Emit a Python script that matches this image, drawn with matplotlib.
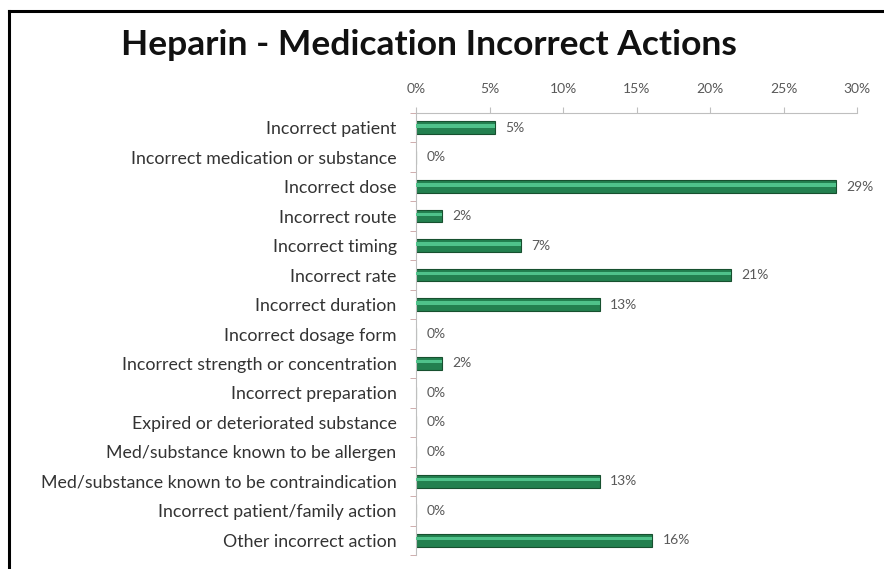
import matplotlib.pyplot as plt
from matplotlib.ticker import FuncFormatter, FixedLocator
from matplotlib.lines import Line2D

categories = [
    "Incorrect patient",
    "Incorrect medication or substance",
    "Incorrect dose",
    "Incorrect route",
    "Incorrect timing",
    "Incorrect rate",
    "Incorrect duration",
    "Incorrect dosage form",
    "Incorrect strength or concentration",
    "Incorrect preparation",
    "Expired or deteriorated substance",
    "Med/substance known to be allergen",
    "Med/substance known to be contraindication",
    "Incorrect patient/family action",
    "Other incorrect action",
]
values = [5.36, 0, 28.57, 1.79, 7.14, 21.43, 12.5, 0, 1.79, 0, 0, 0, 12.5, 0, 16.07]
xticks = [0, 5, 10, 15, 20, 25, 30]

plt.rcParams['font.family'] = ['Lato', 'DejaVu Sans']

fig = plt.figure(figsize=(8.84, 5.69), dpi=100)
ax = fig.add_axes([416 / 884, 1 - 555 / 569, (857 - 416) / 884, (555 - 113) / 569])

pos = list(range(len(categories)))
ax.barh(pos, values, height=0.43, color='#23804f', edgecolor='#17502f', linewidth=0.8, zorder=2)
ax.barh([p - 0.06 for p in pos], values, height=0.12, color='#4fc28a', linewidth=0, zorder=3)

for p, v in zip(pos, values):
    ax.text(v + 0.7, p, f"{int(v + 0.5)}%", va='center', ha='left', fontsize=10, color='#595959')

ax.set_ylim(len(categories) - 0.5, -0.5)
ax.set_xlim(0, 30)
ax.set_yticks(pos)
ax.set_yticklabels(categories, fontsize=12.8, color='#333333')
ax.yaxis.set_minor_locator(FixedLocator([p + 0.5 for p in range(-1, len(categories))]))
ax.tick_params(axis='y', which='major', length=0, pad=14)
ax.tick_params(axis='y', which='minor', length=4, color='#c8a0a0', direction='out')

ax.xaxis.tick_top()
ax.set_xticks(xticks)
ax.xaxis.set_major_formatter(FuncFormatter(lambda x, _: f"{x:.0f}%"))
ax.tick_params(axis='x', length=4, color='#bfbfbf', labelsize=10, labelcolor='#595959', pad=9)

for s in ['right', 'bottom']:
    ax.spines[s].set_visible(False)
ax.spines['top'].set_color('#bfbfbf')
ax.spines['left'].set_color('#bfbfbf')

fig.text(429 / 884, 1 - 45 / 569, "Heparin - Medication Incorrect Actions",
         ha='center', va='center', fontsize=25.5, fontweight='bold', color='#111111')

# frame at top and left of the picture
fig.add_artist(Line2D([9 / 884, 1], [1 - 11 / 569] * 2, color='black', lw=2.2))
fig.add_artist(Line2D([9 / 884] * 2, [0, 1 - 11 / 569], color='black', lw=2.2))

fig.savefig('out.png', dpi=100)
